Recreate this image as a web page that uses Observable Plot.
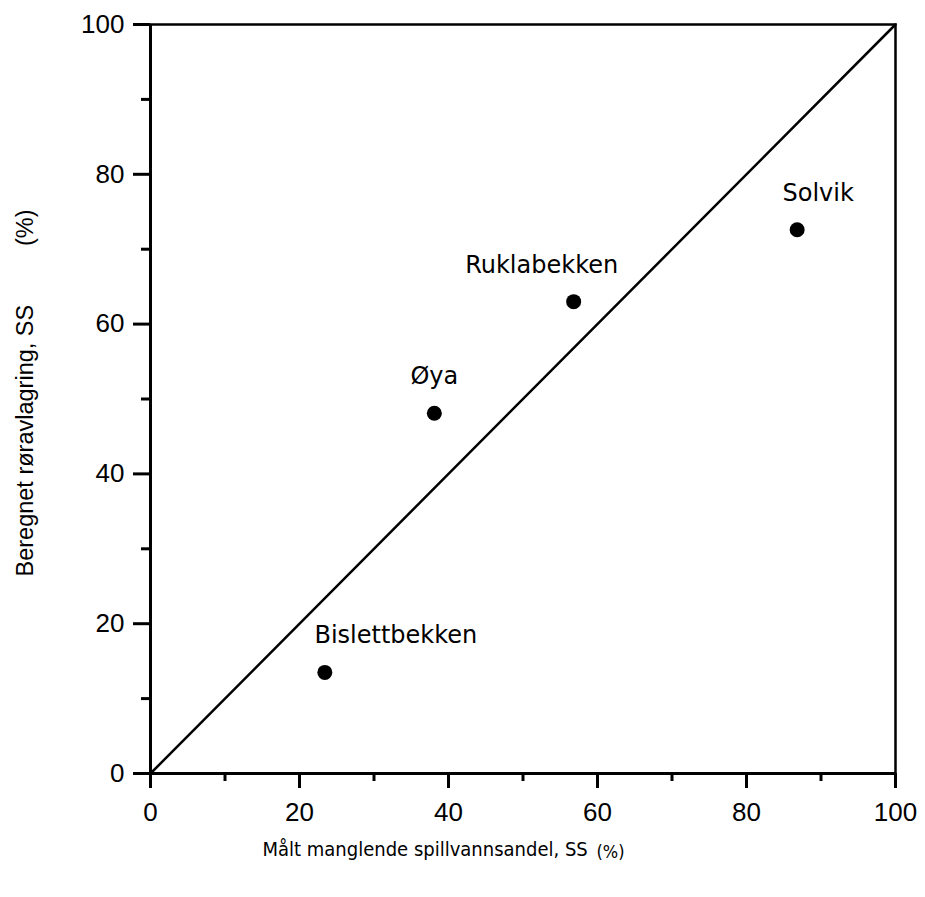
<!DOCTYPE html>
<html><head><meta charset="utf-8">
<script src="https://cdn.jsdelivr.net/npm/d3@7"></script>
<script src="https://cdn.jsdelivr.net/npm/@observablehq/plot@0.6"></script>
<style>body{margin:0;background:#fff;}</style>
</head><body><div id="chart"></div>
<script>
const stations = ["Bislettbekken", "Øya", "Ruklabekken", "Solvik"];
const measured = [23.4, 38.1, 56.8, 86.8];
const calculated = [13.5, 48.1, 63.0, 72.6];
const majorTicks = [0, 20, 40, 60, 80, 100];
const minorTicks = [10, 30, 50, 70, 90];
const diagonal = [0, 100];
const xTitle = "Målt manglende spillvannsandel, SS";
const xUnit = "(%)";
const yTitle = "Beregnet røravlagring, SS\u00a0\u00a0\u00a0\u00a0\u00a0\u00a0\u00a0\u00a0\u00a0(%)";

const points = stations.map((name, i) => ({name, x: measured[i], y: calculated[i]}));
const diag = diagonal.map(v => ({x: v, y: v}));
const labelDx = {"Bislettbekken": 71, "Øya": 0, "Ruklabekken": -32, "Solvik": 21};

const chart = Plot.plot({
  width: 925, height: 897,
  marginLeft: 150, marginRight: 30, marginTop: 24, marginBottom: 124,
  x: {domain: [0, 100]},
  y: {domain: [0, 100]},
  style: {fontFamily: "Liberation Sans, Arial, sans-serif", fontSize: "26px", color: "#000", background: "#fff", overflow: "visible"},
  marks: [
    Plot.frame({stroke: "#000", strokeWidth: 2.5}),
    Plot.axisX({ticks: majorTicks, tickSize: 15, tickPadding: 14, strokeWidth: 3, label: null}),
    Plot.axisX({ticks: minorTicks, tickSize: 8, tickFormat: () => "", strokeWidth: 3, label: null}),
    Plot.axisY({ticks: majorTicks, tickSize: 17, tickPadding: 9, strokeWidth: 3, label: null}),
    Plot.axisY({ticks: minorTicks, tickSize: 9, tickFormat: () => "", strokeWidth: 3, label: null}),
    Plot.ruleX([0], {strokeWidth: 3}),
    Plot.ruleY([0], {strokeWidth: 3}),
    Plot.line(diag, {x: "x", y: "y", stroke: "#000", strokeWidth: 2.5}),
    Plot.dot(points, {x: "x", y: "y", r: 7.5, fill: "#000", stroke: null}),
    ...points.map(p => Plot.text([p], {x: "x", y: "y", text: "name", dx: labelDx[p.name], dy: -29,
      lineAnchor: "bottom", textAnchor: "middle", fontFamily: "DejaVu Sans", fontSize: 24, fill: "#000"})),
    Plot.text([xTitle], {frameAnchor: "bottom-left", text: d => d, textAnchor: "start", dx: 112, dy: 82,
      fontFamily: "DejaVu Sans Condensed, DejaVu Sans", fontSize: 20, fill: "#000"}),
    Plot.text([xUnit], {frameAnchor: "bottom-left", text: d => d, textAnchor: "start", dx: 446, dy: 84,
      fontFamily: "DejaVu Sans Condensed, DejaVu Sans", fontSize: 18, fill: "#000"}),
    Plot.text([yTitle], {frameAnchor: "left", text: d => d, rotate: -90, textAnchor: "middle", dx: -125, dy: -6,
      fontFamily: "Liberation Sans, Arial, sans-serif", fontSize: 23.5, fill: "#000"})
  ]
});
document.getElementById("chart").append(chart);
</script>
</body></html>
